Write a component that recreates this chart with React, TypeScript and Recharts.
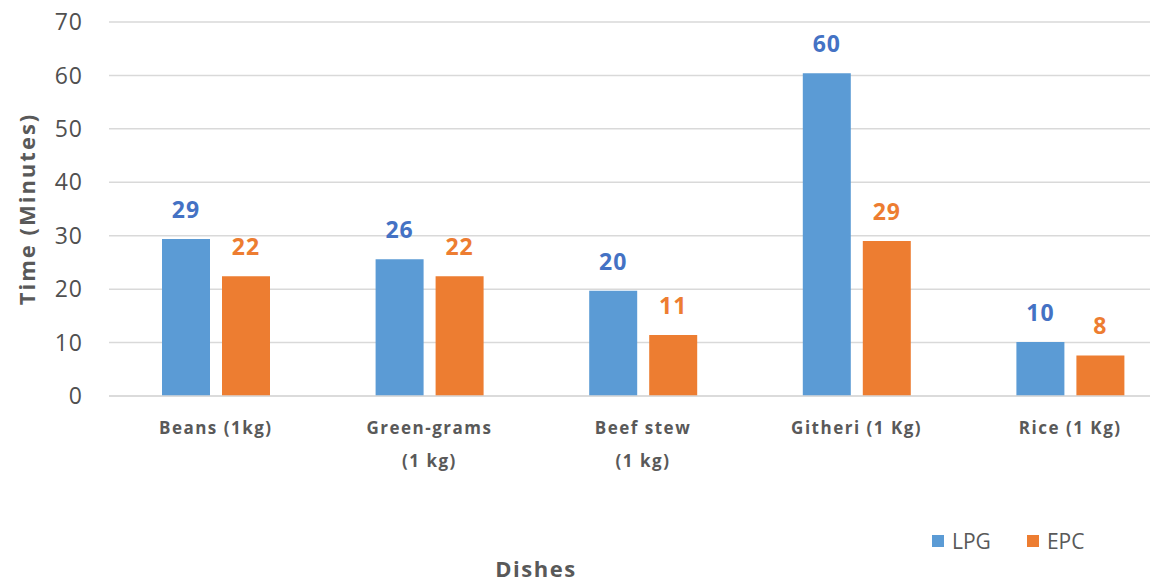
import React from 'react';
import { BarChart, Bar, XAxis, YAxis, CartesianGrid, Legend, LabelList, Label } from 'recharts';

const categories = ['Beans (1kg)', 'Green-grams\n(1 kg)', 'Beef stew\n(1 kg)', 'Githeri (1 Kg)', 'Rice (1 Kg)'];
const lpgValues = [29.4, 25.6, 19.7, 60.4, 10.1];
const epcValues = [22.4, 22.4, 11.4, 29.0, 7.6];
const lpgLabels = [29, 26, 20, 60, 10];
const epcLabels = [22, 22, 11, 29, 8];
const yTicks = [0, 10, 20, 30, 40, 50, 60, 70];
const seriesOrder = ['LPG', 'EPC'];

const data = categories.map((name, i) => ({
  name,
  LPG: lpgValues[i],
  EPC: epcValues[i],
  lpgLabel: lpgLabels[i],
  epcLabel: epcLabels[i],
}));

const FONT = '"Open Sans", Lato, sans-serif';
const TEXT = '#595959';
const LPG_COLOR = '#5B9BD5';
const EPC_COLOR = '#ED7D31';
const GRID = '#D9D9D9';

const CatTick = (props: any) => {
  const { x, y, payload } = props;
  const lines = String(payload.value).split('\n');
  return (
    <text
      x={x}
      y={y}
      textAnchor="middle"
      fill={TEXT}
      fontSize={17}
      fontWeight={700}
      fontFamily={FONT}
      letterSpacing={1.5}
    >
      {lines.map((l, i) => (
        <tspan key={i} x={x} dy={i === 0 ? 38 : 33}>
          {l}
        </tspan>
      ))}
    </text>
  );
};

const LegendContent = (props: any) => {
  const payload = [...(props.payload || [])].sort(
    (a: any, b: any) => seriesOrder.indexOf(a.dataKey) - seriesOrder.indexOf(b.dataKey)
  );
  return (
    <div style={{ display: 'flex', alignItems: 'center', fontFamily: FONT, fontSize: 21, color: TEXT }}>
      {payload.map((p: any, i: number) => (
        <div key={i} style={{ display: 'flex', alignItems: 'center', marginRight: i === 0 ? 36 : 0 }}>
          <div style={{ width: 12, height: 12, background: p.color, marginRight: 8 }} />
          <span>{p.value}</span>
        </div>
      ))}
    </div>
  );
};

export default function App() {
  return (
    <div style={{ position: 'absolute', left: 0, top: 0, width: 1150, height: 584, overflow: 'hidden', background: '#fff' }}>
      <BarChart
        width={1180}
        height={584}
        data={data}
        margin={{ top: 22, right: 3, bottom: 0, left: 0 }}
        barSize={48}
        barGap={12}
      >
        <CartesianGrid vertical={false} stroke={GRID} strokeWidth={1.5} />
        <XAxis
          dataKey="name"
          height={188}
          interval={0}
          axisLine={{ stroke: GRID, strokeWidth: 1.5 }}
          tickLine={false}
          tickSize={0}
          tickMargin={0}
          tick={<CatTick />}
        >
          <Label
            value="Dishes"
            position="insideBottom"
            offset={7}
            dx={-107}
            fill={TEXT}
            fontSize={22}
            fontWeight={700}
            fontFamily={FONT}
            letterSpacing={1.5}
          />
        </XAxis>
        <YAxis
          width={109}
          domain={[0, 70]}
          ticks={yTicks}
          axisLine={false}
          tickLine={false}
          tickSize={0}
          tickMargin={26}
          tick={{ fill: '#505050', fontSize: 23, fontFamily: FONT, letterSpacing: 1 }}
        >
          <Label
            value="Time (Minutes)"
            angle={-90}
            position="center"
            dx={-27}
            fill={TEXT}
            fontSize={22}
            fontWeight={700}
            fontFamily={FONT}
            letterSpacing={2}
          />
        </YAxis>
        <Legend
          layout="horizontal"
          verticalAlign="middle"
          align="center"
          content={<LegendContent />}
          wrapperStyle={{ left: 932, top: 527, width: 'auto' }}
        />
        <Bar dataKey="LPG" fill={LPG_COLOR} isAnimationActive={false}>
          <LabelList dataKey="lpgLabel" position="top" offset={21} fill="#4472C4" fontSize={23} fontWeight={700} fontFamily={FONT} letterSpacing={1} />
        </Bar>
        <Bar dataKey="EPC" fill={EPC_COLOR} isAnimationActive={false}>
          <LabelList dataKey="epcLabel" position="top" offset={21} fill={EPC_COLOR} fontSize={23} fontWeight={700} fontFamily={FONT} letterSpacing={1} />
        </Bar>
      </BarChart>
    </div>
  );
}
